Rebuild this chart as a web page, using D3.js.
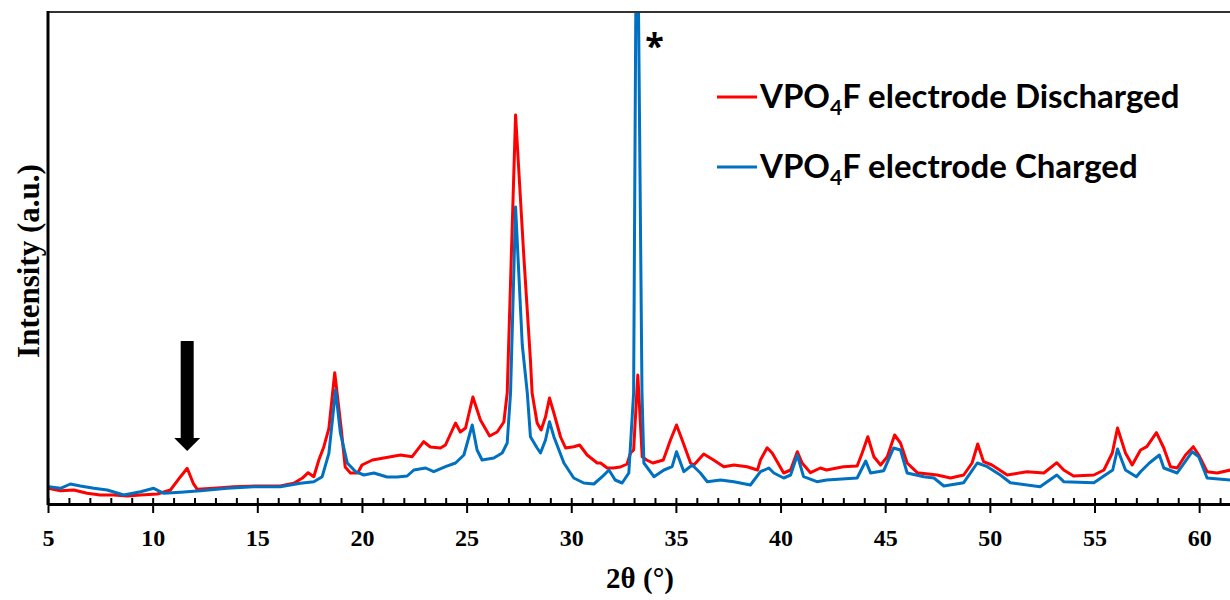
<!DOCTYPE html>
<html>
<head>
<meta charset="utf-8">
<script src="https://cdn.jsdelivr.net/npm/d3@7"></script>
<style>
  body { margin: 0; background: #fff; }
  svg { display: block; overflow: hidden; }
</style>
</head>
<body>
<svg id="xrd-svg"></svg>
<script>
// 2theta positions and intensities (a.u.)
const discharged2Theta = [5.0, 5.6, 6.23, 6.87, 7.5, 8.14, 8.78, 9.42, 10.22, 10.85, 11.33, 11.65, 11.94, 12.13, 12.92, 13.88, 15.0, 16.1, 16.74, 17.14, 17.43, 17.7, 17.94, 18.18, 18.42, 18.7, 19.0, 19.2, 19.45, 19.8, 20.0, 20.5, 21.04, 21.84, 22.4, 22.95, 23.27, 23.75, 23.99, 24.47, 24.7, 24.95, 25.3, 25.66, 26.1, 26.46, 26.78, 26.94, 27.34, 27.73, 28.05, 28.13, 28.37, 28.56, 28.77, 28.96, 29.17, 29.49, 29.73, 30.12, 30.4, 30.76, 31.24, 31.4, 31.72, 32.0, 32.35, 32.67, 32.83, 32.98, 33.18, 33.39, 33.6, 33.9, 34.4, 34.74, 35.03, 35.3, 35.7, 35.86, 36.33, 36.8, 37.29, 37.77, 38.4, 38.9, 39.04, 39.36, 39.6, 40.15, 40.48, 40.8, 41.03, 41.43, 41.9, 42.2, 43.0, 43.66, 43.9, 44.17, 44.46, 44.78, 45.1, 45.45, 45.73, 46.05, 46.53, 47.48, 48.12, 48.75, 49.15, 49.42, 49.7, 50.1, 50.83, 51.78, 52.58, 53.2, 53.53, 54.0, 54.97, 55.45, 55.85, 56.1, 56.48, 56.8, 57.2, 57.5, 57.96, 58.31, 58.63, 58.95, 59.35, 59.72, 59.98, 60.38, 60.86, 61.5, 62.5];
const dischargedIntensity = [15.7, 13.3, 14, 10.7, 9, 9, 8, 9, 10, 14, 27.3, 35.7, 20.7, 14.7, 15.7, 17.3, 18, 18, 20.7, 25.7, 31.3, 27.3, 44, 57.3, 75.7, 131.3, 77, 37, 31, 31, 39, 44, 46, 49, 47.3, 62.3, 57, 56, 59, 81, 72, 76, 107, 84, 68, 72, 82, 111, 389, 249, 144, 111, 81, 74, 87, 106, 91, 67, 56, 57.3, 59, 49, 41, 41, 36, 36, 37, 40, 51, 54, 129, 47.3, 44, 41, 44, 64, 79, 64, 41, 39, 50, 44, 37.3, 39, 37.3, 34, 44, 56.3, 51, 31, 34, 52.3, 41, 31.3, 36, 34, 37.3, 38, 51, 67.3, 47.3, 39, 47.3, 69, 61, 41, 31.3, 29, 26, 29, 41, 60, 42.3, 39, 29, 32.3, 31, 41.3, 34, 28, 29, 34, 51, 76, 51, 39, 54, 57.3, 71.3, 56, 37.3, 36, 49, 57.3, 49, 32.3, 31, 34, 33];

const charged2Theta = [5.04, 5.6, 6.07, 6.55, 7.19, 7.83, 8.62, 9.42, 10.05, 10.53, 11.33, 12.29, 13.56, 14.83, 16.1, 17.06, 17.7, 18.1, 18.42, 18.74, 18.97, 19.3, 19.7, 20.09, 20.57, 21.2, 21.68, 22.16, 22.48, 23.04, 23.43, 23.99, 24.47, 24.87, 25.27, 25.5, 25.74, 26.3, 26.7, 26.94, 27.1, 27.34, 27.66, 27.9, 28.05, 28.37, 28.53, 28.77, 28.96, 29.17, 29.65, 30.12, 30.6, 31.08, 31.48, 31.8, 32.1, 32.43, 32.75, 32.98, 33.08, 33.15, 33.22, 33.38, 33.47, 33.95, 34.43, 34.82, 35.03, 35.38, 35.78, 36.17, 36.5, 37.13, 37.77, 38.56, 39.04, 39.44, 39.68, 40.15, 40.48, 40.8, 41.1, 41.74, 42.2, 43.66, 44.07, 44.3, 44.93, 45.4, 45.73, 46.05, 46.85, 47.33, 47.8, 48.75, 49.4, 49.88, 50.5, 50.98, 52.4, 53.2, 53.53, 54.97, 55.87, 56.1, 56.48, 57.0, 57.2, 57.62, 58.1, 58.31, 58.95, 59.67, 59.98, 60.38, 61.5, 62.5];
const chargedIntensity = [17.3, 15.7, 20, 18, 15.7, 14, 9, 12.3, 15.7, 10.7, 11.7, 13.3, 15.7, 17.3, 17.3, 20.7, 22.3, 27.3, 50.7, 114, 71, 41, 32.3, 29, 31, 27, 27, 28, 34, 36, 32.3, 37.3, 41, 49, 79, 54, 44, 46, 51, 61, 111, 297, 159, 111, 67.3, 56, 51, 64, 82.3, 67.3, 41, 26, 21, 20, 27.3, 34, 24, 21, 31, 111, 480, 620, 480, 111, 41, 27.3, 34, 37.3, 52.3, 32.3, 39, 31, 22.3, 24, 22.3, 19, 32.3, 36, 31, 26, 29, 49, 27.3, 22.3, 24, 26, 43, 31, 33.3, 56, 54, 31, 27.3, 26, 18, 21.3, 41, 37.3, 29, 21.3, 17.3, 29, 22.3, 21.3, 34, 55, 34, 27.3, 32.3, 41, 49, 36, 31, 52.3, 47.3, 26, 24, 24];

const majorTicks = [5, 10, 15, 20, 25, 30, 35, 40, 45, 50, 55, 60];
const minorTicks = d3.range(5, 66, 1);

const seriesNames = ["Discharged", "Charged"];
const seriesColors = ["#ff0000", "#0070c0"];

const width = 1230, height = 600;
const margin = { top: 12, left: 48, bottom: 96 };

const svg = d3.select("#xrd-svg")
  .attr("width", width)
  .attr("height", height);

// x axis runs past the right edge of the picture
const xScale = d3.scaleLinear().domain([5, 65]).range([margin.left, margin.left + 60 * 20.93]);
const yScale = d3.scaleLinear().domain([0, 492]).range([height - margin.bottom, margin.top]);
const plotBottom = height - margin.bottom;

svg.append("clipPath").attr("id", "plot-clip")
  .append("rect")
  .attr("x", margin.left).attr("y", margin.top)
  .attr("width", width).attr("height", plotBottom - margin.top);

const line = d3.line()
  .x(d => xScale(d[0]))
  .y(d => yScale(d[1]));

const series = [
  d3.zip(discharged2Theta, dischargedIntensity),
  d3.zip(charged2Theta, chargedIntensity)
];

const lines = svg.append("g").attr("clip-path", "url(#plot-clip)");
series.forEach((s, i) => {
  lines.append("path")
    .datum(s)
    .attr("fill", "none")
    .attr("stroke", seriesColors[i])
    .attr("stroke-width", 3)
    .attr("stroke-linejoin", "round")
    .attr("d", line);
});

// top frame line
svg.append("line")
  .attr("x1", margin.left).attr("x2", width)
  .attr("y1", margin.top).attr("y2", margin.top)
  .attr("stroke", "#333").attr("stroke-width", 2);

// y axis: line only, no ticks
svg.append("line")
  .attr("x1", margin.left).attr("x2", margin.left)
  .attr("y1", margin.top - 1).attr("y2", plotBottom + 1)
  .attr("stroke", "#000").attr("stroke-width", 3);

// minor ticks pointing inward
svg.append("g")
  .attr("transform", `translate(0,${plotBottom})`)
  .call(d3.axisBottom(xScale).tickValues(minorTicks).tickSize(-6).tickFormat(""))
  .call(g => g.select(".domain").remove())
  .selectAll("line").attr("stroke", "#000").attr("stroke-width", 2);

// major ticks pointing outward, with labels
const xAxis = svg.append("g")
  .attr("transform", `translate(0,${plotBottom})`)
  .call(d3.axisBottom(xScale).tickValues(majorTicks).tickSizeInner(9).tickSizeOuter(0).tickPadding(16));
xAxis.select(".domain").attr("stroke", "#000").attr("stroke-width", 3);
xAxis.selectAll(".tick line").attr("stroke", "#000").attr("stroke-width", 2);
xAxis.selectAll(".tick text")
  .style("font-family", "'Liberation Serif', 'Times New Roman', serif")
  .style("font-weight", "bold")
  .style("font-size", "24px")
  .attr("fill", "#000");

// axis titles
svg.append("text")
  .attr("x", 640).attr("y", 588)
  .attr("text-anchor", "middle")
  .style("font-family", "'Liberation Serif', 'Times New Roman', serif")
  .style("font-weight", "bold")
  .style("font-size", "29px")
  .text("2θ (°)");

svg.append("text")
  .attr("transform", "translate(39,261) rotate(-90)")
  .attr("text-anchor", "middle")
  .style("font-family", "'Liberation Serif', 'Times New Roman', serif")
  .style("font-weight", "bold")
  .style("font-size", "31px")
  .text("Intensity (a.u.)");

// arrow pointing at the 11.6 peak
const arrowX = xScale(11.65);
const arrowTop = yScale(163), arrowHeadTop = yScale(66), arrowTip = yScale(53);
svg.append("path")
  .attr("d", `M${arrowX - 6.5},${arrowTop} L${arrowX + 6.5},${arrowTop} L${arrowX + 6.5},${arrowHeadTop} L${arrowX + 13},${arrowHeadTop} L${arrowX},${arrowTip} L${arrowX - 13},${arrowHeadTop} L${arrowX - 6.5},${arrowHeadTop} Z`)
  .attr("fill", "#000");

// asterisk next to the sharp peak
svg.append("text")
  .attr("x", xScale(33.15) + 8).attr("y", 58)
  .style("font-family", "'Open Sans', Lato, sans-serif")
  .style("font-weight", "bold")
  .style("font-size", "34px")
  .text("*");

// legend
const legend = svg.append("g");
const legendY = [97, 167];
seriesNames.forEach((name, i) => {
  legend.append("line")
    .attr("x1", 717).attr("x2", 757)
    .attr("y1", legendY[i]).attr("y2", legendY[i])
    .attr("stroke", seriesColors[i]).attr("stroke-width", 3);
  const t = legend.append("text")
    .attr("x", 760).attr("y", legendY[i] + 11)
    .style("font-family", "Lato, 'Open Sans', sans-serif")
    .style("font-weight", "bold")
    .style("font-size", "33px")
    .attr("fill", "#000");
  t.append("tspan").text("VPO");
  t.append("tspan").attr("dy", 7).style("font-size", "21px").text("4");
  t.append("tspan").attr("dy", -7).text("F electrode " + name);
});
</script>
</body>
</html>
